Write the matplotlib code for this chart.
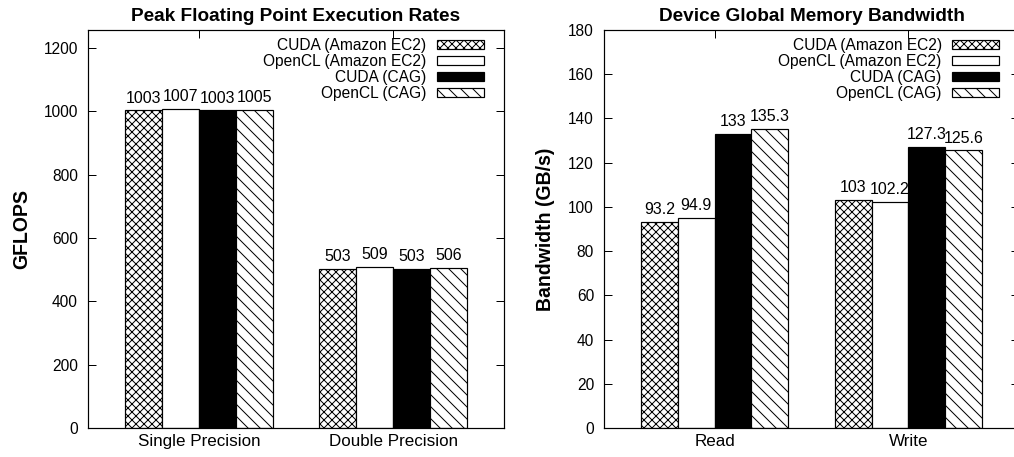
import numpy as np
import matplotlib.pyplot as plt
from matplotlib.patches import Patch

plt.rcParams['font.family'] = ['Liberation Sans', 'DejaVu Sans']
plt.rcParams['hatch.linewidth'] = 1.0

# data
series = ["CUDA (Amazon EC2)", "OpenCL (Amazon EC2)", "CUDA (CAG)", "OpenCL (CAG)"]
flops_cats = ["Single Precision", "Double Precision"]
flops_vals = [[1003, 503], [1007, 509], [1003, 503], [1005, 506]]
flops_labels = [["1003", "503"], ["1007", "509"], ["1003", "503"], ["1005", "506"]]
bw_cats = ["Read", "Write"]
bw_vals = [[93.2, 103], [94.9, 102.2], [133, 127.3], [135.3, 125.6]]
bw_labels = [["93.2", "103"], ["94.9", "102.2"], ["133", "127.3"], ["135.3", "125.6"]]

faces = ["white", "white", "black", "white"]
hatches = ["xxx", None, None, "\\\\"]

FS = 16
dpi = 72
fig = plt.figure(figsize=(1014 / dpi, 457 / dpi), dpi=dpi)
ax1 = fig.add_axes([88 / 1014, 29 / 457, 416 / 1014, 398 / 457])
ax2 = fig.add_axes([604 / 1014, 29 / 457, 415 / 1014, 398 / 457])

w = 0.19


def panel(ax, cats, vals, labels, title, ylabel, ymax, yticks):
    x = np.arange(len(cats))
    for i in range(4):
        pos = x + (i - 1.5) * w
        ax.bar(pos, vals[i], w, color=faces[i], edgecolor="black",
               hatch=hatches[i], linewidth=1.2)
        for p, v, t in zip(pos, vals[i], labels[i]):
            ax.text(p, v + ymax * 0.012, t, ha="center", va="bottom", fontsize=FS)
    ax.set_xlim(-0.572, 1.572)
    ax.set_ylim(0, ymax)
    ax.set_xticks(x)
    ax.set_xticklabels(cats)
    ax.set_yticks(yticks)
    ax.tick_params(direction="in", length=8, width=1,
                   top=True, right=True, pad=10)
    ax.tick_params(axis="y", labelsize=15.5)
    ax.tick_params(axis="x", labelsize=17, pad=6)
    for s in ax.spines.values():
        s.set_linewidth(1.2)
    ax.set_title(title, fontsize=19, fontweight="bold", pad=9)
    ax.set_ylabel(ylabel, fontsize=19.5, fontweight="bold")
    handles = [Patch(facecolor=faces[i], edgecolor="black", hatch=hatches[i],
                     linewidth=1.2) for i in range(4)]
    ax.legend(handles, series, loc="upper right", bbox_to_anchor=(1 - 20 / 415, 1 - 8 / 398),
              frameon=False, markerfirst=False, fontsize=15.5, handlelength=3.0,
              handleheight=0.5, labelspacing=0.06, handletextpad=0.7,
              borderpad=0, borderaxespad=0)


panel(ax1, flops_cats, flops_vals, flops_labels, "Peak Floating Point Execution Rates",
      "GFLOPS", 1257, range(0, 1201, 200))
panel(ax2, bw_cats, bw_vals, bw_labels, "Device Global Memory Bandwidth",
      "Bandwidth (GB/s)", 180, range(0, 181, 20))
ax1.yaxis.set_label_coords(-57 / 416, 0.5)
ax2.yaxis.set_label_coords(-49 / 415, 0.5)

fig.savefig("out.png", dpi=dpi)
